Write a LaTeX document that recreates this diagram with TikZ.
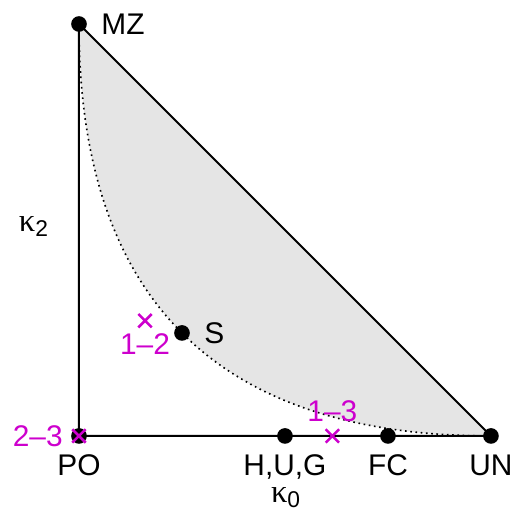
\documentclass[tikz,border=0pt]{standalone}
\usepackage{fontspec}
\setmainfont{Liberation Sans}
\newfontfamily\kapa{Liberation Serif}
\usetikzlibrary{positioning}
\definecolor{relleno}{HTML}{E5E5E5}
\definecolor{morado}{HTML}{CD00CD}
\begin{document}
\begin{tikzpicture}[x=2cm,y=2cm,font=\fontsize{16.5}{19}\selectfont,
  etiq/.style={inner sep=0pt},
  cruz/.style={morado,line width=1.4pt}]
\useasboundingbox (-0.767,-0.699) rectangle (4.214,4.233);

% vertices and points
\foreach \n/\x/\y in {MZ/0/4,PO/0/0,HUG/2/0,FC/3/0,UN/4/0,S/1/1} \coordinate (\n) at (\x,\y);
\coordinate (ca) at (0,4/3);
\coordinate (cb) at (4/3,0);
\coordinate (c12) at (0.641,1.119);
\coordinate (c23) at (0,0);
\coordinate (c13) at (2.46,0);

% admissible region
\fill[relleno] (MZ) .. controls (ca) and (cb) .. (UN) -- cycle;
\draw[line width=0.9pt,dash pattern=on 0.9pt off 2pt] (MZ) .. controls (ca) and (cb) .. (UN);
\draw[line width=1.1pt] (MZ) -- (PO) -- (UN) -- cycle;

\foreach \n in {MZ,PO,HUG,FC,UN,S} \fill (\n) circle (0.076);
\foreach \c in {c12,c23,c13} \draw[cruz] (\c) +(-0.065,-0.065) -- +(0.065,0.065) (\c) +(-0.065,0.065) -- +(0.065,-0.065);

% labels
\node[etiq,anchor=west,right=0.43cm of MZ] (lMZ) {MZ};
\node[etiq,anchor=west,right=0.43cm of S] (lS) {S};
\node[etiq,below=0.36cm of PO] (lPO) {PO};
\node[etiq,below=0.36cm of HUG] (lHUG) {H,U,G};
\node[etiq,below=0.36cm of FC] (lFC) {FC};
\node[etiq,below=0.36cm of UN] (lUN) {UN};
\node[etiq,font=\fontsize{18}{20}\selectfont] (k0) at (2.01,-0.6) {{\kapa κ}\textsubscript{0}};
\node[etiq,font=\fontsize{18}{20}\selectfont] (k2) at (-0.437,2.03) {{\kapa κ}\textsubscript{2}};
\node[etiq,text=morado,below=0.25cm of c12] (l12) {1–2};
\node[etiq,text=morado,left=0.31cm of c23] (l23) {2–3};
\node[etiq,text=morado,above=0.27cm of c13] (l13) {1–3};

\end{tikzpicture}
\end{document}
